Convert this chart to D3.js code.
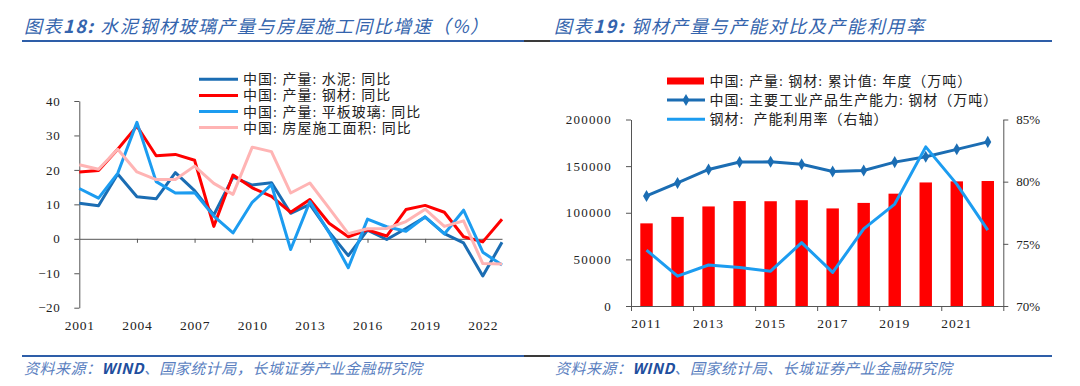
<!DOCTYPE html>
<html>
<head>
<meta charset="utf-8">
<script src="https://cdn.jsdelivr.net/npm/d3@7"></script>
<style>
  body { margin: 0; background: #fff; }
  svg text { font-family: "Liberation Serif", "Noto Sans CJK SC", serif; fill: #222; white-space: pre; }
  .cn { font-family: "Noto Sans CJK SC", sans-serif; }
</style>
</head>
<body>
<svg id="chart" width="1080" height="386"></svg>
<script>
// ---- left chart data (YoY %, 2001-2023)
const years = [2001, 2002, 2003, 2004, 2005, 2006, 2007, 2008, 2009, 2010, 2011, 2012,
  2013, 2014, 2015, 2016, 2017, 2018, 2019, 2020, 2021, 2022, 2023];
const cement = [10.3, 9.6, 18.8, 12.2, 11.6, 19.2, 14.0, 6.9, 17.9, 15.6, 16.3, 7.4,
  10.0, 2.0, -4.9, 2.5, -0.2, 3.0, 6.3, 1.5, -1.2, -10.8, -1.0];
const steel = [19.4, 19.8, 26.0, 32.7, 24.1, 24.5, 22.8, 3.6, 18.5, 14.8, 12.3, 7.7,
  11.4, 4.5, 0.6, 2.6, 0.8, 8.5, 9.7, 7.7, 0.6, -0.9, 5.7];
const glass = [14.6, 11.8, 19.0, 33.8, 16.6, 13.3, 13.4, 6.6, 1.7, 10.6, 15.7, -3.1,
  10.8, 1.8, -8.4, 5.7, 3.5, 2.2, 6.4, 1.4, 8.3, -3.9, -7.6];
const floorArea = [21.5, 20.2, 26.0, 19.4, 17.2, 17.2, 21.1, 16.1, 12.9, 26.6, 25.3, 13.3,
  16.2, 8.9, 1.5, 2.9, 3.0, 5.0, 8.6, 3.6, 5.2, -7.2, -7.3];
const leftNames = ['中国: 产量: 水泥: 同比', '中国: 产量: 钢材: 同比', '中国: 产量: 平板玻璃: 同比', '中国: 房屋施工面积: 同比'];
const leftTicksY = [-20, -10, 0, 10, 20, 30, 40];
const leftTicksX = [2001, 2004, 2007, 2010, 2013, 2016, 2019, 2022];

// ---- right chart data (2011-2022)
const steelYears = [2011, 2012, 2013, 2014, 2015, 2016, 2017, 2018, 2019, 2020, 2021, 2022];
const steelOutput = [88620, 95578, 106762, 112513, 112350, 113460, 104642, 110552, 120456, 132489, 133667, 134034];
const steelCapacity = [118000, 132000, 146400, 154300, 154600, 152100, 144300, 145300, 154300, 160000, 168000, 176000];
const utilRate = [74.5, 72.4, 73.3, 73.1, 72.8, 75.1, 72.7, 76.2, 78.2, 82.8, 79.8, 76.1];
const rightNames = ['中国: 产量: 钢材: 累计值: 年度（万吨）', '中国: 主要工业产品生产能力: 钢材（万吨）', '钢材:  产能利用率（右轴）'];
const rightTicksL = [0, 50000, 100000, 150000, 200000];
const rightTicksR = [70, 75, 80, 85];
const rightLabelYears = [2011, 2013, 2015, 2017, 2019, 2021];

const blue = '#1b6db3', red = '#ff0000', lightBlue = '#1c9cf0', pink = '#ffb4b4';
const axisColor = '#555';

const svg = d3.select('#chart');
svg.append('rect').attr('width', 1080).attr('height', 386).attr('fill', '#fff');

// ---- headers / footers
function rule(y) {
  svg.append('line').attr('x1', 22).attr('x2', 524).attr('y1', y).attr('y2', y)
    .attr('stroke', '#2e5ea8').attr('stroke-width', 2);
  svg.append('line').attr('x1', 524).attr('x2', 550).attr('y1', y).attr('y2', y)
    .attr('stroke', '#3a3a3a').attr('stroke-width', 2);
  svg.append('line').attr('x1', 550).attr('x2', 1052).attr('y1', y).attr('y2', y)
    .attr('stroke', '#2e5ea8').attr('stroke-width', 2);
}
rule(41);
rule(356);

function title(x, width, num, rest) {
  const t = svg.append('text').attr('class', 'cn').attr('x', x).attr('y', 33)
    .attr('textLength', width).attr('lengthAdjust', 'spacing')
    .style('font-size', '18px').style('font-style', 'italic').style('fill', '#3464ad');
  t.append('tspan').text('图表');
  t.append('tspan').style('font-weight', 'bold').text(num + ':');
  t.append('tspan').text(' ' + rest);
}
title(24, 464, '18', '水泥钢材玻璃产量与房屋施工同比增速（%）');
title(554, 370, '19', '钢材产量与产能对比及产能利用率');

function source(x, width, rest) {
  const t = svg.append('text').attr('class', 'cn').attr('x', x).attr('y', 374)
    .attr('textLength', width).attr('lengthAdjust', 'spacing')
    .style('font-size', '15px').style('font-style', 'italic').style('fill', '#5b7fbf');
  t.append('tspan').text('资料来源：');
  t.append('tspan').style('font-weight', 'bold').style('fill', '#1f4f9e').text('WIND');
  t.append('tspan').text(rest);
}
source(24, 398, '、国家统计局，长城证券产业金融研究院');
source(555, 397, '、国家统计局、长城证券产业金融研究院');

function styleAxis(g) {
  g.selectAll('path, line').attr('stroke', axisColor).attr('stroke-width', 1);
  g.selectAll('text').style('font-size', '13px').style('letter-spacing', '0.6px')
    .style('font-family', '"Liberation Serif", serif').attr('fill', '#222');
}

// ================= left chart =================
const xL = d3.scaleLinear().domain([2001, 2023]).range([79.3, 502]);
const yL = d3.scaleLinear().domain([-20, 40]).range([307.7, 101]);

svg.append('g').attr('transform', 'translate(79.3,0)')
  .call(d3.axisLeft(yL).tickValues(leftTicksY).tickSize(5).tickSizeOuter(0).tickPadding(14)
    .tickFormat(d => d < 0 ? '\u2212' + Math.abs(d) : d))
  .call(styleAxis);

svg.append('g').attr('transform', `translate(0,${yL(0)})`)
  .call(d3.axisBottom(xL).tickValues(leftTicksX.slice(1)).tickSize(4).tickSizeOuter(0).tickFormat(''))
  .call(styleAxis);

svg.append('g').attr('transform', `translate(0,${yL(-20)})`)
  .call(d3.axisBottom(xL).tickValues(leftTicksX).tickSize(0).tickPadding(13).tickFormat(d3.format('d')))
  .call(g => g.select('.domain').remove())
  .call(styleAxis)
  .call(g => g.selectAll('text').style('font-size', '13.5px').style('letter-spacing', '0.8px'));

const leftSeries = [cement, steel, glass, floorArea];
const leftColors = [blue, red, lightBlue, pink];
const lineL = d3.line().x((d, i) => xL(years[i])).y(d => yL(d));

leftSeries.forEach((s, k) => {
  svg.append('path').datum(s).attr('d', lineL)
    .attr('fill', 'none').attr('stroke', leftColors[k]).attr('stroke-width', 3)
    .attr('stroke-linejoin', 'round');
});

const legL = svg.append('g');
leftNames.forEach((name, k) => {
  const y = 79.3 + k * 16.1;
  legL.append('line').attr('x1', 199).attr('x2', 238).attr('y1', y).attr('y2', y)
    .attr('stroke', leftColors[k]).attr('stroke-width', 3);
  legL.append('text').attr('x', 243).attr('y', y).attr('dy', '0.36em')
    .style('font-size', '14px').style('letter-spacing', '1px').text(name);
});

// ================= right chart =================
const xR = d3.scaleBand().domain(steelYears).range([631, 1003.3]).paddingInner(0.6).paddingOuter(0.3);
const xEdge = d3.scaleLinear().domain([2010.5, 2022.5]).range([631, 1003.3]);
const yR = d3.scaleLinear().domain([0, 200000]).range([306, 119.5]);
const yP = d3.scaleLinear().domain([70, 85]).range([306, 119.5]);

svg.append('g').attr('transform', 'translate(631,0)')
  .call(d3.axisLeft(yR).tickValues(rightTicksL).tickSize(5).tickSizeOuter(0).tickPadding(14)
    .tickFormat(d3.format('d')))
  .call(styleAxis)
  .call(g => g.selectAll('text').style('letter-spacing', '1.2px'));

svg.append('g').attr('transform', 'translate(1003.3,0)')
  .call(d3.axisRight(yP).tickValues(rightTicksR).tickSize(5).tickSizeOuter(0).tickPadding(8)
    .tickFormat(d => d + '%'))
  .call(styleAxis)
  .call(g => g.selectAll('text').style('letter-spacing', '0px'));

svg.append('g').attr('transform', 'translate(0,306)')
  .call(d3.axisBottom(xEdge).tickValues([2010.5, 2012.5, 2014.5, 2016.5, 2018.5, 2020.5, 2022.5])
    .tickSize(5).tickSizeOuter(0).tickFormat(''))
  .call(styleAxis);

svg.append('g').attr('transform', 'translate(0,306)')
  .call(d3.axisBottom(xR).tickValues(rightLabelYears).tickSize(0).tickPadding(12))
  .call(g => g.select('.domain').remove())
  .call(styleAxis)
  .call(g => g.selectAll('text').style('font-size', '13.5px').style('letter-spacing', '1px'));

svg.append('g').selectAll('rect').data(steelOutput).join('rect')
  .attr('x', (d, i) => xR(steelYears[i]))
  .attr('width', xR.bandwidth())
  .attr('y', d => yR(d))
  .attr('height', d => yR(0) - yR(d))
  .attr('fill', red);

const cx = (d, i) => xR(steelYears[i]) + xR.bandwidth() / 2;
svg.append('path').datum(steelCapacity)
  .attr('d', d3.line().x(cx).y(d => yR(d)))
  .attr('fill', 'none').attr('stroke', blue).attr('stroke-width', 3);
svg.append('g').selectAll('path').data(steelCapacity).join('path')
  .attr('transform', (d, i) => `translate(${cx(d, i)},${yR(d)})`)
  .attr('d', d3.symbol(d3.symbolDiamond, 42))
  .attr('fill', blue);

svg.append('path').datum(utilRate)
  .attr('d', d3.line().x(cx).y(d => yP(d)))
  .attr('fill', 'none').attr('stroke', lightBlue).attr('stroke-width', 3)
  .attr('stroke-linejoin', 'round');

const legR = svg.append('g');
const rowsR = [81, 100, 119.3];
legR.append('rect').attr('x', 667).attr('y', rowsR[0] - 3.5).attr('width', 37).attr('height', 7).attr('fill', red);
legR.append('line').attr('x1', 667).attr('x2', 705).attr('y1', rowsR[1]).attr('y2', rowsR[1])
  .attr('stroke', blue).attr('stroke-width', 3);
legR.append('path').attr('transform', `translate(686,${rowsR[1]})`)
  .attr('d', d3.symbol(d3.symbolDiamond, 42)).attr('fill', blue);
legR.append('line').attr('x1', 667).attr('x2', 705).attr('y1', rowsR[2]).attr('y2', rowsR[2])
  .attr('stroke', lightBlue).attr('stroke-width', 3);
rightNames.forEach((name, k) => {
  legR.append('text').attr('x', 709.6).attr('y', rowsR[k]).attr('dy', '0.36em')
    .style('font-size', '14px').style('letter-spacing', '1px').text(name);
});
</script>
</body>
</html>
